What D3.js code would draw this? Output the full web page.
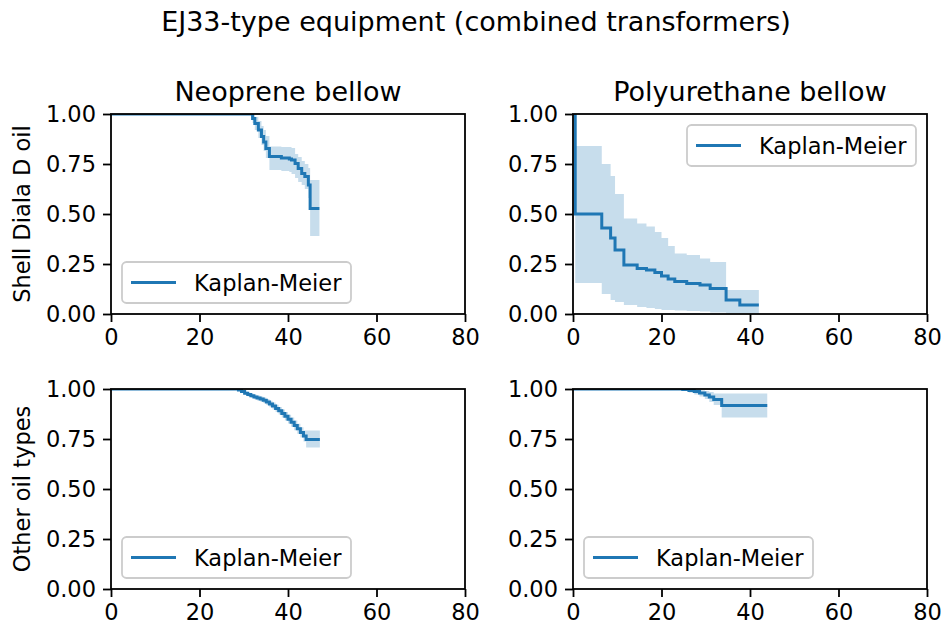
<!DOCTYPE html>
<html>
<head>
  <title>EJ33-type equipment</title>
  <script src="https://d3js.org/d3.v7.min.js"></script>
  <style>
    body { margin: 0; background: #fff; }
    text { font-family: "DejaVu Sans", sans-serif; fill: #000; }
  </style>
</head>
<body>

  <svg></svg>

  <script>

    // Kaplan-Meier step data (time, survival, CI upper, CI lower)
    var neoShellTime  = [0, 32.0, 32.5, 33.3, 34.0, 34.5, 35.0, 35.8, 38.5, 40.3, 40.8, 41.6, 42.3, 43.1, 43.8, 44.6, 45.0, 47.1];
    var neoShellSurv  = [1.0, 0.978, 0.953, 0.92, 0.887, 0.86, 0.828, 0.787, 0.78, 0.775, 0.77, 0.753, 0.728, 0.703, 0.687, 0.645, 0.528, 0.528];
    var neoShellUpper = [1.0, 0.995, 0.985, 0.965, 0.94, 0.92, 0.89, 0.838, 0.835, 0.835, 0.83, 0.80, 0.785, 0.765, 0.75, 0.73, 0.67, 0.67];
    var neoShellLower = [1.0, 0.955, 0.92, 0.88, 0.845, 0.815, 0.78, 0.72, 0.715, 0.71, 0.70, 0.68, 0.66, 0.645, 0.625, 0.58, 0.39, 0.39];

    var polyShellTime  = [0, 0.5, 6.5, 8.5, 9.5, 11.5, 14.5, 16.6, 18.5, 20.0, 21.5, 23.0, 25.7, 28.7, 31.0, 34.6, 37.7, 42.0];
    var polyShellSurv  = [1.0, 0.50, 0.43, 0.38, 0.32, 0.245, 0.228, 0.22, 0.207, 0.19, 0.175, 0.162, 0.153, 0.145, 0.128, 0.07, 0.045, 0.045];
    var polyShellUpper = [1.0, 0.84, 0.75, 0.69, 0.60, 0.478, 0.453, 0.437, 0.41, 0.38, 0.34, 0.303, 0.295, 0.278, 0.26, 0.12, 0.12, 0.12];
    var polyShellLower = [1.0, 0.155, 0.10, 0.07, 0.06, 0.045, 0.035, 0.03, 0.025, 0.02, 0.02, 0.018, 0.015, 0.012, 0.008, 0.003, 0.001, 0.001];

    var neoOtherTime  = [0, 28.8, 29.5, 30.2, 30.9, 31.6, 32.3, 33.0, 33.7, 34.4, 35.1, 35.8, 36.5, 37.2, 37.9, 38.6, 39.3, 40.0, 40.7, 41.4, 42.1, 42.8, 43.5, 44.1, 47.2];
    var neoOtherSurv  = [1, 0.995, 0.987, 0.979, 0.972, 0.966, 0.96, 0.955, 0.95, 0.944, 0.935, 0.925, 0.915, 0.903, 0.891, 0.878, 0.864, 0.849, 0.834, 0.818, 0.801, 0.783, 0.765, 0.748, 0.748];
    var neoOtherUpper = [1, 1, 0.994, 0.987, 0.981, 0.976, 0.971, 0.967, 0.963, 0.958, 0.95, 0.941, 0.932, 0.921, 0.91, 0.898, 0.885, 0.871, 0.857, 0.842, 0.826, 0.809, 0.792, 0.792, 0.792];
    var neoOtherLower = [1, 0.99, 0.98, 0.971, 0.963, 0.956, 0.949, 0.943, 0.937, 0.93, 0.92, 0.909, 0.898, 0.885, 0.872, 0.858, 0.843, 0.827, 0.811, 0.794, 0.776, 0.757, 0.738, 0.708, 0.708];

    var polyOtherTime  = [0, 24.8, 26.2, 27.4, 28.6, 29.8, 30.8, 31.8, 33.6, 43.9];
    var polyOtherSurv  = [1, 0.997, 0.993, 0.987, 0.98, 0.97, 0.96, 0.947, 0.917, 0.917];
    var polyOtherUpper = [1, 1, 0.999, 0.997, 0.994, 0.99, 0.985, 0.978, 0.978, 0.978];
    var polyOtherLower = [1, 0.99, 0.982, 0.972, 0.962, 0.95, 0.935, 0.92, 0.858, 0.858];

    var xTicks = [0, 20, 40, 60, 80];
    var yTicks = [0, 0.25, 0.5, 0.75, 1.0];
    var colTitles = ["Neoprene bellow", "Polyurethane bellow"];
    var rowLabels = ["Shell Diala D oil", "Other oil types"];
    var legendLabel = "Kaplan-Meier";

    var blue = "#1f77b4";
    var width = 944, height = 628;
    var axW = 354, axH = 200;
    var colX = [111, 573], rowY = [114, 389];

    var panels = [
      {row: 0, col: 0, t: neoShellTime, s: neoShellSurv, hi: neoShellUpper, lo: neoShellLower, legend: "ll"},
      {row: 0, col: 1, t: polyShellTime, s: polyShellSurv, hi: polyShellUpper, lo: polyShellLower, legend: "ur"},
      {row: 1, col: 0, t: neoOtherTime, s: neoOtherSurv, hi: neoOtherUpper, lo: neoOtherLower, legend: "ll"},
      {row: 1, col: 1, t: polyOtherTime, s: polyOtherSurv, hi: polyOtherUpper, lo: polyOtherLower, legend: "ll"}
    ];

    var svg = d3.select("svg")
        .attr("width", width)
        .attr("height", height);

    // Figure title
    svg.append("text")
        .attr("x", 476)
        .attr("y", 31)
        .attr("text-anchor", "middle")
        .style("font-size", "27px")
        .text("EJ33-type equipment (combined transformers)");

    var x = d3.scaleLinear().domain([0, 80]).range([0, axW]);
    var y = d3.scaleLinear().domain([0, 1]).range([axH, 0]);

    panels.forEach(function(p, i) {
      var g = svg.append("g")
          .attr("transform", "translate(" + colX[p.col] + "," + rowY[p.row] + ")");

      var rows = p.t.map(function(t, k) { return {t: t, s: p.s[k], hi: p.hi[k], lo: p.lo[k]}; });

      g.append("clipPath").attr("id", "clip" + i)
        .append("rect").attr("width", axW).attr("height", axH);

      var plot = g.append("g").attr("clip-path", "url(#clip" + i + ")");

      // confidence band
      plot.append("path")
          .datum(rows)
          .attr("fill", blue)
          .attr("fill-opacity", 0.25)
          .attr("d", d3.area()
            .curve(d3.curveStepAfter)
            .x(function(d) { return x(d.t); })
            .y0(function(d) { return y(d.lo); })
            .y1(function(d) { return y(d.hi); }));

      // survival line
      plot.append("path")
          .datum(rows)
          .attr("fill", "none")
          .attr("stroke", blue)
          .attr("stroke-width", 3)
          .attr("d", d3.line()
            .curve(d3.curveStepAfter)
            .x(function(d) { return x(d.t); })
            .y(function(d) { return y(d.s); }));

      // axes
      var xAxis = g.append("g")
          .attr("transform", "translate(0," + axH + ")")
          .call(d3.axisBottom(x).tickValues(xTicks).tickSize(8).tickPadding(7).tickSizeOuter(0));
      var yAxis = g.append("g")
          .call(d3.axisLeft(y).tickValues(yTicks).tickFormat(d3.format(".2f")).tickSize(8).tickPadding(7).tickSizeOuter(0));
      [xAxis, yAxis].forEach(function(a) {
        a.select(".domain").remove();
        a.selectAll("line").attr("stroke", "#000").attr("stroke-width", 1.8);
        a.selectAll("text").style("font-size", "22.5px").attr("fill", "#000");
      });

      // frame
      g.append("rect")
          .attr("width", axW)
          .attr("height", axH)
          .attr("fill", "none")
          .attr("stroke", "#000")
          .attr("stroke-width", 1.8);

      // column titles on top row
      if (p.row === 0) {
        g.append("text")
            .attr("x", axW / 2)
            .attr("y", -13)
            .attr("text-anchor", "middle")
            .style("font-size", "27px")
            .text(colTitles[p.col]);
      }

      // row labels on left column
      if (p.col === 0) {
        g.append("text")
            .attr("transform", "translate(" + (30 - colX[0]) + "," + (axH / 2) + ") rotate(-90)")
            .attr("text-anchor", "middle")
            .style("font-size", "22.5px")
            .text(rowLabels[p.row]);
      }

      // legend
      var lw = 229, lh = 41;
      var lx = p.legend === "ur" ? axW - 11 - lw : 11;
      var ly = p.legend === "ur" ? 11 : axH - 11 - lh;
      var leg = g.append("g").attr("transform", "translate(" + lx + "," + ly + ")");
      leg.append("rect")
          .attr("width", lw)
          .attr("height", lh)
          .attr("rx", 4.5)
          .attr("fill", "#fff")
          .attr("fill-opacity", 0.8)
          .attr("stroke", "#ccc")
          .attr("stroke-width", 1.8);
      leg.append("line")
          .attr("x1", 9).attr("x2", 54)
          .attr("y1", lh / 2).attr("y2", lh / 2)
          .attr("stroke", blue)
          .attr("stroke-width", 3);
      leg.append("text")
          .attr("x", 72)
          .attr("y", lh / 2 + 8)
          .style("font-size", "22.5px")
          .text(legendLabel);
    });

  </script>

</body>
</html>
